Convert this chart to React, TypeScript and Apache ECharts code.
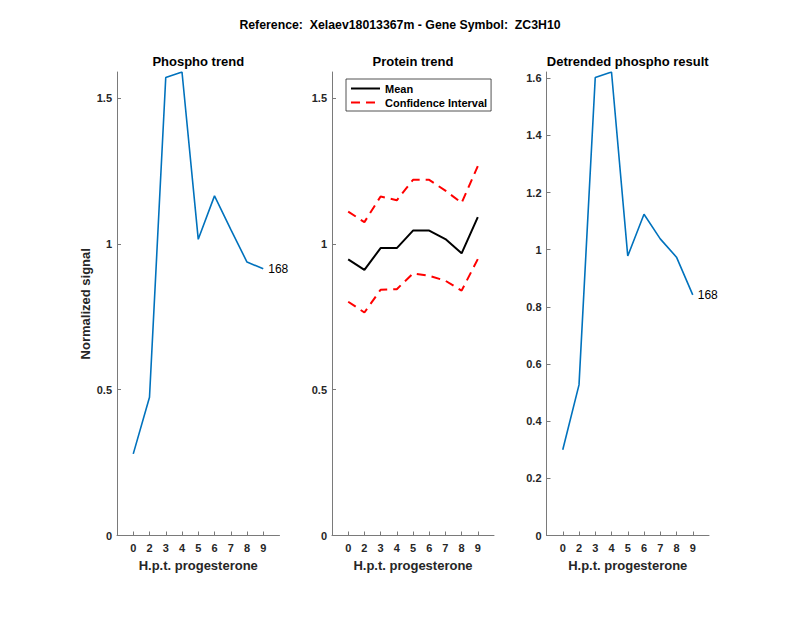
import React, { useEffect, useRef } from "react";
import * as echarts from "echarts";

const HOURS = ["0", "2", "3", "4", "5", "6", "7", "8", "9"];
const AXIS_CATEGORIES = ["", ...HOURS, ""];

const PHOSPHO = [0.28, 0.474, 1.571, 1.59, 1.016, 1.165, 1.05, 0.938, 0.915];
const PROTEIN_MEAN = [0.947, 0.911, 0.986, 0.986, 1.046, 1.046, 1.017, 0.968, 1.092];
const PROTEIN_UPPER = [1.111, 1.075, 1.163, 1.15, 1.22, 1.22, 1.183, 1.141, 1.267];
const PROTEIN_LOWER = [0.802, 0.765, 0.843, 0.845, 0.899, 0.891, 0.874, 0.84, 0.948];
const DETRENDED = [0.3, 0.527, 1.603, 1.622, 0.978, 1.124, 1.038, 0.974, 0.842];

const TICKS_LEFT = [0, 0.5, 1, 1.5];
const TICKS_RIGHT = [0, 0.2, 0.4, 0.6, 0.8, 1, 1.2, 1.4, 1.6];
const END_LABEL = "168";

const TITLE = "Reference:  Xelaev18013367m - Gene Symbol:  ZC3H10";
const SUBTITLES = ["Phospho trend", "Protein trend", "Detrended phospho result"];
const X_NAME = "H.p.t. progesterone";
const Y_NAME = "Normalized signal";

const FONT = "'Liberation Sans', Arial, Helvetica, sans-serif";
const TEXT = "#262626";
const AXIS = "#7a7a7a";

const GRIDS = [
  { left: 117, width: 162.5 },
  { left: 332, width: 162 },
  { left: 546.5, width: 162.5 },
];

function pairs(values: number[]) {
  return values.map((v, i) => [HOURS[i], v]);
}

const endLabel = {
  show: true,
  formatter: END_LABEL,
  distance: 5,
  fontSize: 12,
  fontFamily: FONT,
  color: "#000",
};

export default function App() {
  const ref = useRef<HTMLDivElement>(null);

  useEffect(() => {
    document.body.style.margin = "0";
    if (!ref.current) return;
    const chart = echarts.init(ref.current, undefined, { renderer: "svg" });

    const tickFilter = (_i: number, v: string) => v !== "";

    const xAxes = GRIDS.map((_, gi) => ({
      type: "category",
      gridIndex: gi,
      data: AXIS_CATEGORIES,
      boundaryGap: false,
      axisLine: { show: true, lineStyle: { color: AXIS, width: 1 } },
      axisTick: { show: true, inside: true, length: 4, interval: tickFilter, lineStyle: { color: AXIS } },
      axisLabel: {
        interval: 0,
        margin: 7,
        fontSize: 11,
        fontWeight: "bold",
        fontFamily: FONT,
        color: TEXT,
      },
      splitLine: { show: false },
      name: X_NAME,
      nameLocation: "middle",
      nameGap: 23,
      nameTextStyle: { fontSize: 13, fontWeight: "bold", fontFamily: FONT, color: TEXT },
    }));

    const yAxisBase = (gi: number, max: number, ticks: number[]) => ({
      type: "value",
      gridIndex: gi,
      min: 0,
      max,
      axisLine: { show: true, lineStyle: { color: AXIS, width: 1 } },
      axisTick: { show: true, inside: true, length: 4, customValues: ticks, lineStyle: { color: AXIS } },
      axisLabel: {
        customValues: ticks,
        margin: 5,
        fontSize: 11,
        fontWeight: "bold",
        fontFamily: FONT,
        color: TEXT,
      },
      splitLine: { show: false },
    });

    const yAxes: any[] = [
      {
        ...yAxisBase(0, 1.59, TICKS_LEFT),
        name: Y_NAME,
        nameLocation: "middle",
        nameGap: 25,
        nameRotate: 90,
        nameTextStyle: { fontSize: 13, fontWeight: "bold", fontFamily: FONT, color: TEXT },
      },
      yAxisBase(1, 1.59, TICKS_LEFT),
      yAxisBase(2, 1.622, TICKS_RIGHT),
    ];

    const option: any = {
      animation: false,
      backgroundColor: "#fff",
      grid: GRIDS.map((g) => ({ left: g.left, width: g.width, top: 72, bottom: 82.5, containLabel: false })),
      xAxis: xAxes,
      yAxis: yAxes,
      legend: {
        data: ["Mean", "Confidence Interval"],
        orient: "vertical",
        left: 346,
        top: 79,
        itemWidth: 29,
        itemHeight: 12,
        itemGap: 3,
        padding: [4, 4, 3, 4],
        borderColor: "#262626",
        borderWidth: 0.8,
        backgroundColor: "#fff",
        itemStyle: { opacity: 0 },
        textStyle: { fontSize: 11, fontWeight: "bold", fontFamily: FONT, color: "#000" },
      },
      graphic: [
        {
          type: "text",
          x: 400,
          y: 25,
          style: {
            text: TITLE,
            fontSize: 12.3,
            fontWeight: "bold",
            fontFamily: FONT,
            fill: "#000",
            textAlign: "center",
            textVerticalAlign: "middle",
          },
        },
        ...SUBTITLES.map((t, i) => ({
          type: "text",
          x: GRIDS[i].left + GRIDS[i].width / 2,
          y: 61,
          style: {
            text: t,
            fontSize: 13,
            fontWeight: "bold",
            fontFamily: FONT,
            fill: "#000",
            textAlign: "center",
            textVerticalAlign: "middle",
          },
        })),
      ],
      series: [
        {
          name: "Phospho",
          type: "line",
          xAxisIndex: 0,
          yAxisIndex: 0,
          symbol: "none",
          lineStyle: { color: "#0072BD", width: 1.6 },
          itemStyle: { color: "#0072BD" },
          endLabel,
          data: pairs(PHOSPHO),
        },
        {
          name: "Mean",
          type: "line",
          xAxisIndex: 1,
          yAxisIndex: 1,
          symbol: "none",
          lineStyle: { color: "#000", width: 2 },
          itemStyle: { color: "#000" },
          data: pairs(PROTEIN_MEAN),
        },
        {
          name: "Confidence Interval",
          type: "line",
          xAxisIndex: 1,
          yAxisIndex: 1,
          symbol: "none",
          lineStyle: { color: "#ff0000", width: 2, type: [9, 6] },
          itemStyle: { color: "#ff0000" },
          data: pairs(PROTEIN_UPPER),
        },
        {
          name: "Confidence Interval",
          type: "line",
          xAxisIndex: 1,
          yAxisIndex: 1,
          symbol: "none",
          lineStyle: { color: "#ff0000", width: 2, type: [9, 6] },
          itemStyle: { color: "#ff0000" },
          data: pairs(PROTEIN_LOWER),
        },
        {
          name: "Detrended",
          type: "line",
          xAxisIndex: 2,
          yAxisIndex: 2,
          symbol: "none",
          lineStyle: { color: "#0072BD", width: 1.6 },
          itemStyle: { color: "#0072BD" },
          endLabel,
          data: pairs(DETRENDED),
        },
      ],
    };

    chart.setOption(option);
    return () => chart.dispose();
  }, []);

  return <div ref={ref} style={{ width: 800, height: 618 }} />;
}
